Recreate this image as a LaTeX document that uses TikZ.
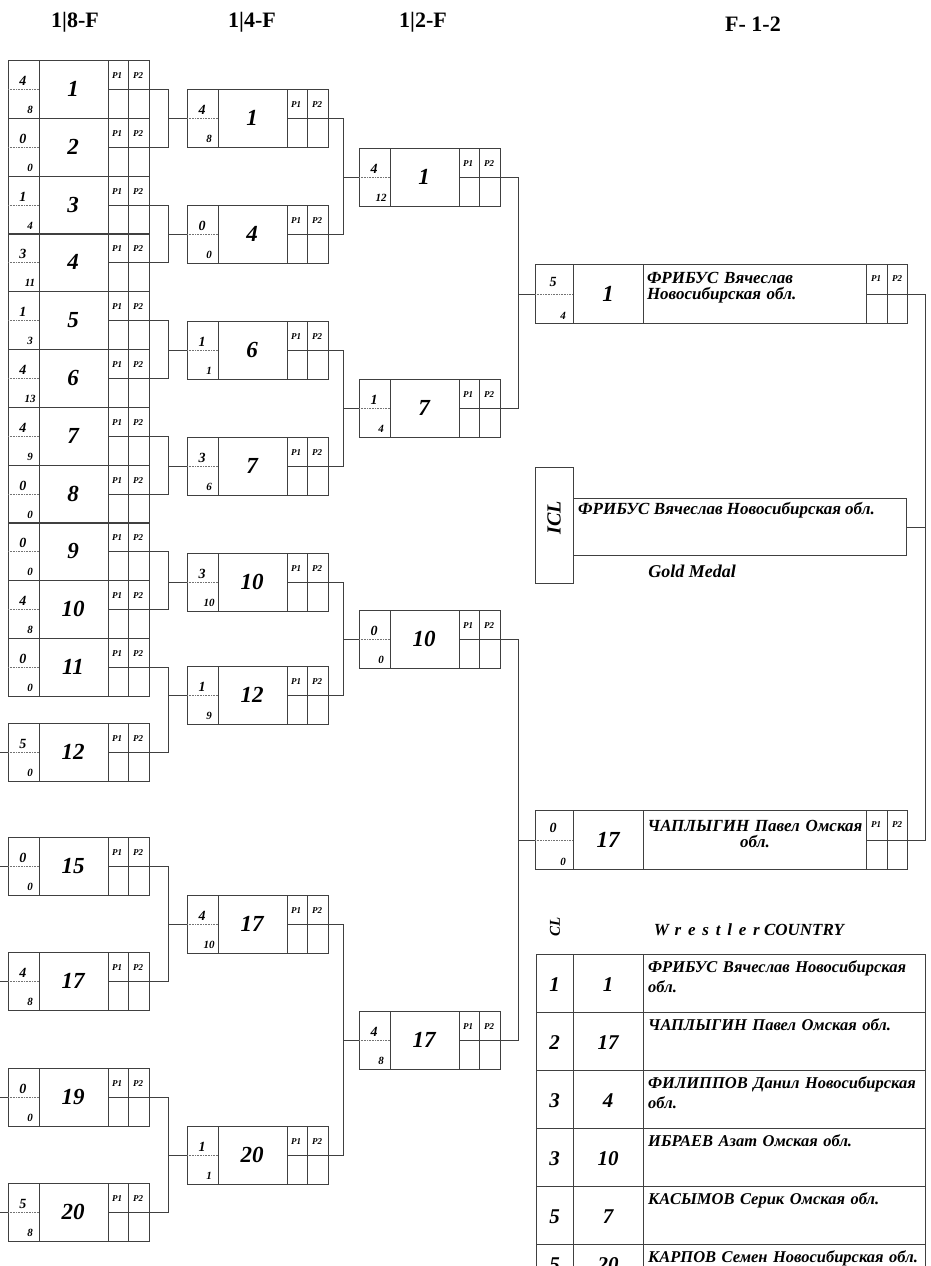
\documentclass[tikz,border=0pt]{standalone}
\usepackage{fontspec}
\setmainfont{Liberation Serif}
\usepackage{tikz}

% one bout of the bracket: name, left x, middle y, upper score, lower score, number
\newcommand{\bout}[6]{%
  \node [bout] (#1) at (#2,#3) {};
  \draw [cell] ([xshift=31pt]#1.north west) -- ([xshift=31pt]#1.south west);
  \draw [cell] ([xshift=-41pt]#1.north east) -- ([xshift=-41pt]#1.south east);
  \draw [cell] ([xshift=-21pt]#1.north east) -- ([xshift=-21pt]#1.south east);
  \draw [cell] ([xshift=-41pt]#1.east) -- (#1.east);
  \draw [dotline] (#1.west) -- ([xshift=31pt]#1.west);
  \node [score] (#1-t) at ([xshift=15pt,yshift=8pt]#1.west) {#4};
  \node [lowscore] (#1-b) at ([xshift=22pt,yshift=-21pt]#1.west) {#5};
  \node [num] (#1-n) at ([xshift=65pt]#1.west) {#6};
  \node [ptag] (#1-p1) at ([xshift=-32pt,yshift=13pt]#1.east) {P1};
  \node [ptag] (#1-p2) at ([xshift=-11pt,yshift=13pt]#1.east) {P2};
}

% final bout with the wrestler's name
\newcommand{\finalbout}[8]{%
  \node [fbout] (#1) at (#2,#3) {};
  \draw [cell] ([xshift=38pt]#1.north west) -- ([xshift=38pt]#1.south west);
  \draw [cell] ([xshift=108pt]#1.north west) -- ([xshift=108pt]#1.south west);
  \draw [cell] ([xshift=-41pt]#1.north east) -- ([xshift=-41pt]#1.south east);
  \draw [cell] ([xshift=-20pt]#1.north east) -- ([xshift=-20pt]#1.south east);
  \draw [cell] ([xshift=-41pt]#1.east) -- (#1.east);
  \draw [dotline] (#1.west) -- ([xshift=38pt]#1.west);
  \node [score] (#1-t) at ([xshift=18pt,yshift=12pt]#1.west) {#4};
  \node [lowscore] (#1-b) at ([xshift=28pt,yshift=-22pt]#1.west) {#5};
  \node [num] (#1-n) at ([xshift=73pt]#1.west) {#6};
  \node [fname, align=#8] (#1-w) at ([xshift=220pt,yshift=6pt]#1.west) {#7};
  \node [ptag] (#1-p1) at ([xshift=-31pt,yshift=15pt]#1.east) {P1};
  \node [ptag] (#1-p2) at ([xshift=-10pt,yshift=15pt]#1.east) {P2};
}

% one row of the ranking table: name, top y, place, number, wrestler, shift of the numbers
\newcommand{\rankrow}[6]{%
  \node [tcell, minimum width=37pt] (#1a) at (536,#2) {};
  \node [tcell, minimum width=70pt] (#1b) at (573,#2) {};
  \node [tcell, minimum width=282pt] (#1c) at (643,#2) {};
  \node [tnum] (#1-p) at ([yshift=#6]#1a.center) {#3};
  \node [tnum] (#1-n) at ([yshift=#6]#1b.center) {#4};
  \node [tname] (#1-w) at ([xshift=5pt,yshift=-6pt]#1c.north west) {#5};
}

\begin{document}
\begin{tikzpicture}[x=1pt,y=-1pt]
\tikzstyle{every node}+=[inner sep=0pt]
\tikzstyle{cell}=[draw=black!75, line width=0.7pt]
\tikzstyle{dotline}=[draw=black!55, line width=0.6pt, densely dotted]
\tikzstyle{bout}=[cell, minimum width=141pt, minimum height=58pt, anchor=west, outer sep=0pt]
\tikzstyle{fbout}=[cell, minimum width=372pt, minimum height=59pt, anchor=west, outer sep=0pt]
\tikzstyle{tcell}=[cell, minimum height=58pt, anchor=north west, outer sep=0pt]
\tikzstyle{score}=[font=\fontsize{14}{16}\selectfont\bfseries\itshape]
\tikzstyle{lowscore}=[font=\fontsize{11}{13}\selectfont\bfseries\itshape]
\tikzstyle{num}=[font=\fontsize{23}{26}\selectfont\bfseries\itshape]
\tikzstyle{ptag}=[font=\fontsize{9}{10}\selectfont\bfseries\itshape]
\tikzstyle{fname}=[font=\fontsize{17}{16}\selectfont\bfseries\itshape, text width=216pt]
\tikzstyle{tnum}=[font=\fontsize{21}{24}\selectfont\bfseries\itshape]
\tikzstyle{tname}=[font=\fontsize{16.5}{20}\selectfont\bfseries\itshape, text width=272pt, align=left, anchor=north west]
\tikzstyle{head}=[font=\fontsize{22}{26}\selectfont\bfseries]
\tikzstyle{link}=[draw=black!75, line width=0.7pt]

\useasboundingbox (0,0) rectangle (931,1266);
\clip (0,0) rectangle (931,1266);

% round titles
\node [head] (h8) at (75,22) {1|8-F};
\node [head] (h4) at (252,22) {1|4-F};
\node [head] (h2) at (423,22) {1|2-F};
\node [head] (hf) at (753,24) {F- 1-2};

% 1/8 final
\bout{a1}{8}{89}{4}{8}{1}
\bout{a2}{8}{147}{0}{0}{2}
\bout{a3}{8}{205}{1}{4}{3}
\bout{a4}{8}{262}{3}{11}{4}
\bout{a5}{8}{320}{1}{3}{5}
\bout{a6}{8}{378}{4}{13}{6}
\bout{a7}{8}{436}{4}{9}{7}
\bout{a8}{8}{494}{0}{0}{8}
\bout{a9}{8}{551}{0}{0}{9}
\bout{a10}{8}{609}{4}{8}{10}
\bout{a11}{8}{667}{0}{0}{11}
\bout{a12}{8}{752}{5}{0}{12}
\bout{a15}{8}{866}{0}{0}{15}
\bout{a17}{8}{981}{4}{8}{17}
\bout{a19}{8}{1097}{0}{0}{19}
\bout{a20}{8}{1212}{5}{8}{20}

% 1/4 final
\bout{q1}{187}{118}{4}{8}{1}
\bout{q2}{187}{234}{0}{0}{4}
\bout{q3}{187}{350}{1}{1}{6}
\bout{q4}{187}{466}{3}{6}{7}
\bout{q5}{187}{582}{3}{10}{10}
\bout{q6}{187}{695}{1}{9}{12}
\bout{q7}{187}{924}{4}{10}{17}
\bout{q8}{187}{1155}{1}{1}{20}

% 1/2 final
\bout{s1}{359}{177}{4}{12}{1}
\bout{s2}{359}{408}{1}{4}{7}
\bout{s3}{359}{639}{0}{0}{10}
\bout{s4}{359}{1040}{4}{8}{17}

% final
\finalbout{f1}{535}{294}{5}{4}{1}{ФРИБУС Вячеслав\\Новосибирская обл.}{left}
\finalbout{f2}{535}{840}{0}{0}{17}{ЧАПЛЫГИН Павел Омская\\обл.}{center}

% stubs on the left
\draw [link] (a12.west) -- ++(-8,0);
\draw [link] (a15.west) -- ++(-8,0);
\draw [link] (a17.west) -- ++(-8,0);
\draw [link] (a19.west) -- ++(-8,0);
\draw [link] (a20.west) -- ++(-8,0);

% bracket lines
\draw [link] (a1.east) -- ++(19,0) |- (q1.west);
\draw [link] (a2.east) -- ++(19,0) |- (q1.west);
\draw [link] (a3.east) -- ++(19,0) |- (q2.west);
\draw [link] (a4.east) -- ++(19,0) |- (q2.west);
\draw [link] (a5.east) -- ++(19,0) |- (q3.west);
\draw [link] (a6.east) -- ++(19,0) |- (q3.west);
\draw [link] (a7.east) -- ++(19,0) |- (q4.west);
\draw [link] (a8.east) -- ++(19,0) |- (q4.west);
\draw [link] (a9.east) -- ++(19,0) |- (q5.west);
\draw [link] (a10.east) -- ++(19,0) |- (q5.west);
\draw [link] (a11.east) -- ++(19,0) |- (q6.west);
\draw [link] (a12.east) -- ++(19,0) |- (q6.west);
\draw [link] (a15.east) -- ++(19,0) |- (q7.west);
\draw [link] (a17.east) -- ++(19,0) |- (q7.west);
\draw [link] (a19.east) -- ++(19,0) |- (q8.west);
\draw [link] (a20.east) -- ++(19,0) |- (q8.west);

\draw [link] (q1.east) -- ++(15,0) |- (s1.west);
\draw [link] (q2.east) -- ++(15,0) |- (s1.west);
\draw [link] (q3.east) -- ++(15,0) |- (s2.west);
\draw [link] (q4.east) -- ++(15,0) |- (s2.west);
\draw [link] (q5.east) -- ++(15,0) |- (s3.west);
\draw [link] (q6.east) -- ++(15,0) |- (s3.west);
\draw [link] (q7.east) -- ++(15,0) |- (s4.west);
\draw [link] (q8.east) -- ++(15,0) |- (s4.west);

\draw [link] (s1.east) -- ++(18,0) |- (f1.west);
\draw [link] (s2.east) -- ++(18,0) |- (f1.west);
\draw [link] (s3.east) -- ++(18,0) |- (f2.west);
\draw [link] (s4.east) -- ++(18,0) |- (f2.west);

\draw [link] (f1.east) -- ++(18,0) |- (f2.east);

% champion
\node [cell, minimum width=38pt, minimum height=116pt] (icl) at (554,525) {};
\node [font=\fontsize{20}{24}\selectfont\bfseries\itshape, rotate=90] (icl-t) at (554,518) {ICL};
\node [cell, minimum width=333pt, minimum height=57pt, anchor=north west] (gold) at (573,498) {};
\node [font=\fontsize{17}{19}\selectfont\bfseries\itshape, anchor=base west] (gold-w) at (578,514) {ФРИБУС Вячеслав Новосибирская обл.};
\node [font=\fontsize{18}{20}\selectfont\bfseries\itshape] (gold-t) at (692,571) {Gold Medal};
\draw [link] (gold.east) -- ++(19,0);

% ranking
\node [font=\fontsize{15}{18}\selectfont\bfseries\itshape, rotate=90] (cl) at (555,927) {CL};
\node [font=\fontsize{17}{20}\selectfont\bfseries\itshape] (wc) at (749,930) {{\addfontfeature{LetterSpace=40}Wrestler}\ COUNTRY};
\rankrow{r1}{954}{1}{1}{ФРИБУС Вячеслав Новосибирская обл.}{-2pt}
\rankrow{r2}{1012}{2}{17}{ЧАПЛЫГИН Павел Омская обл.}{-2pt}
\rankrow{r3}{1070}{3}{4}{ФИЛИППОВ Данил Новосибирская обл.}{-2pt}
\rankrow{r4}{1128}{3}{10}{ИБРАЕВ Азат Омская обл.}{-2pt}
\rankrow{r5}{1186}{5}{7}{КАСЫМОВ Серик Омская обл.}{-2pt}
\rankrow{r6}{1244}{5}{20}{КАРПОВ Семен Новосибирская обл.}{8pt}
\end{tikzpicture}
\end{document}
